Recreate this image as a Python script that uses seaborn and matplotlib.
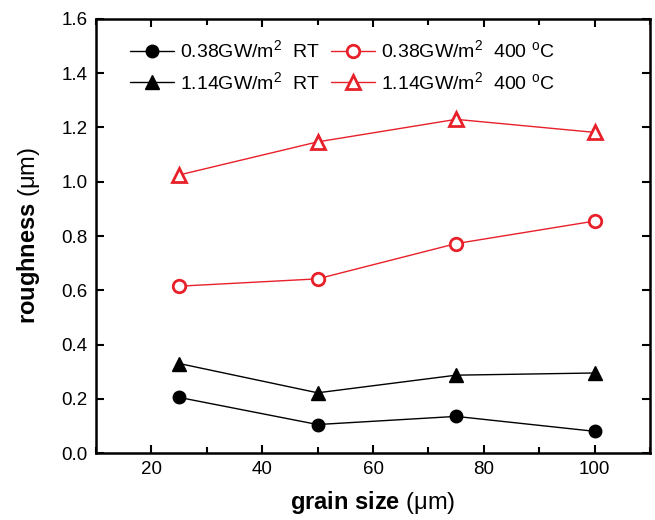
import matplotlib
matplotlib.use("Agg")
import matplotlib.pyplot as plt
import seaborn as sns
import pandas as pd
from matplotlib.ticker import MultipleLocator, FormatStrFormatter

sns.set_theme(style="ticks")
plt.rcParams['font.family'] = ['Liberation Sans', 'DejaVu Sans']
plt.rcParams['mathtext.fontset'] = 'custom'
plt.rcParams['mathtext.rm'] = 'Liberation Sans'
plt.rcParams['mathtext.it'] = 'Liberation Sans:italic'
plt.rcParams['mathtext.bf'] = 'Liberation Sans:bold'
for k in ['text.color', 'axes.labelcolor', 'xtick.color', 'ytick.color', 'axes.edgecolor']:
    plt.rcParams[k] = 'black'

grain_size = [25, 50, 75, 100]
rough_038_rt = [0.205, 0.105, 0.135, 0.080]
rough_114_rt = [0.330, 0.222, 0.287, 0.295]
rough_038_400 = [0.615, 0.642, 0.772, 0.855]
rough_114_400 = [1.025, 1.147, 1.230, 1.182]
labels = ["0.38GW/m$^2$  RT", "1.14GW/m$^2$  RT",
          "0.38GW/m$^2$  400 $^{\\rm o}$C", "1.14GW/m$^2$  400 $^{\\rm o}$C"]

red = "#e8202a"
fig = plt.figure(figsize=(6.55, 5.2), dpi=100)
ax = fig.add_axes([0.1466, 0.1288, 0.8458, 0.8347])

series = [
    (rough_038_rt, labels[0], "black", "o", "black", 9),
    (rough_114_rt, labels[1], "black", "^", "black", 10),
    (rough_038_400, labels[2], red, "o", "white", 9),
    (rough_114_400, labels[3], red, "^", "white", 10),
]
for vals, lab, col, mk, mfc, ms in series:
    df = pd.DataFrame({"grain": grain_size, "rough": vals})
    sns.lineplot(data=df, x="grain", y="rough", ax=ax, color=col, marker=mk,
                 markerfacecolor=mfc, markeredgecolor=col, markersize=ms,
                 markeredgewidth=2.0 if mfc == "white" else 1.0,
                 linewidth=1.0, label=lab)

ax.set_xlim(10, 110)
ax.set_ylim(0, 1.6)
ax.xaxis.set_major_locator(MultipleLocator(20))
ax.xaxis.set_minor_locator(MultipleLocator(10))
ax.yaxis.set_major_locator(MultipleLocator(0.2))
ax.yaxis.set_major_formatter(FormatStrFormatter('%.1f'))
ax.tick_params(which='both', direction='in', top=True, right=True, width=1.5,
               labelsize=13.5, colors='black')
ax.tick_params(which='major', length=6, pad=6)
ax.tick_params(which='minor', length=4)
for s in ax.spines.values():
    s.set_linewidth(1.8)
    s.set_color('black')

ax.set_xlabel(r"$\mathbf{grain\ size}$ (μm)", fontsize=17, labelpad=8)
ax.set_ylabel(r"$\mathbf{roughness}$ (μm)", fontsize=17, labelpad=14)

leg = ax.legend(ncol=2, loc='upper left', bbox_to_anchor=(0.03, 0.993), frameon=False,
                fontsize=14, handlelength=2.25, handletextpad=0.3, columnspacing=0.6,
                labelspacing=0.5)

fig.savefig("out.png", dpi=100)
